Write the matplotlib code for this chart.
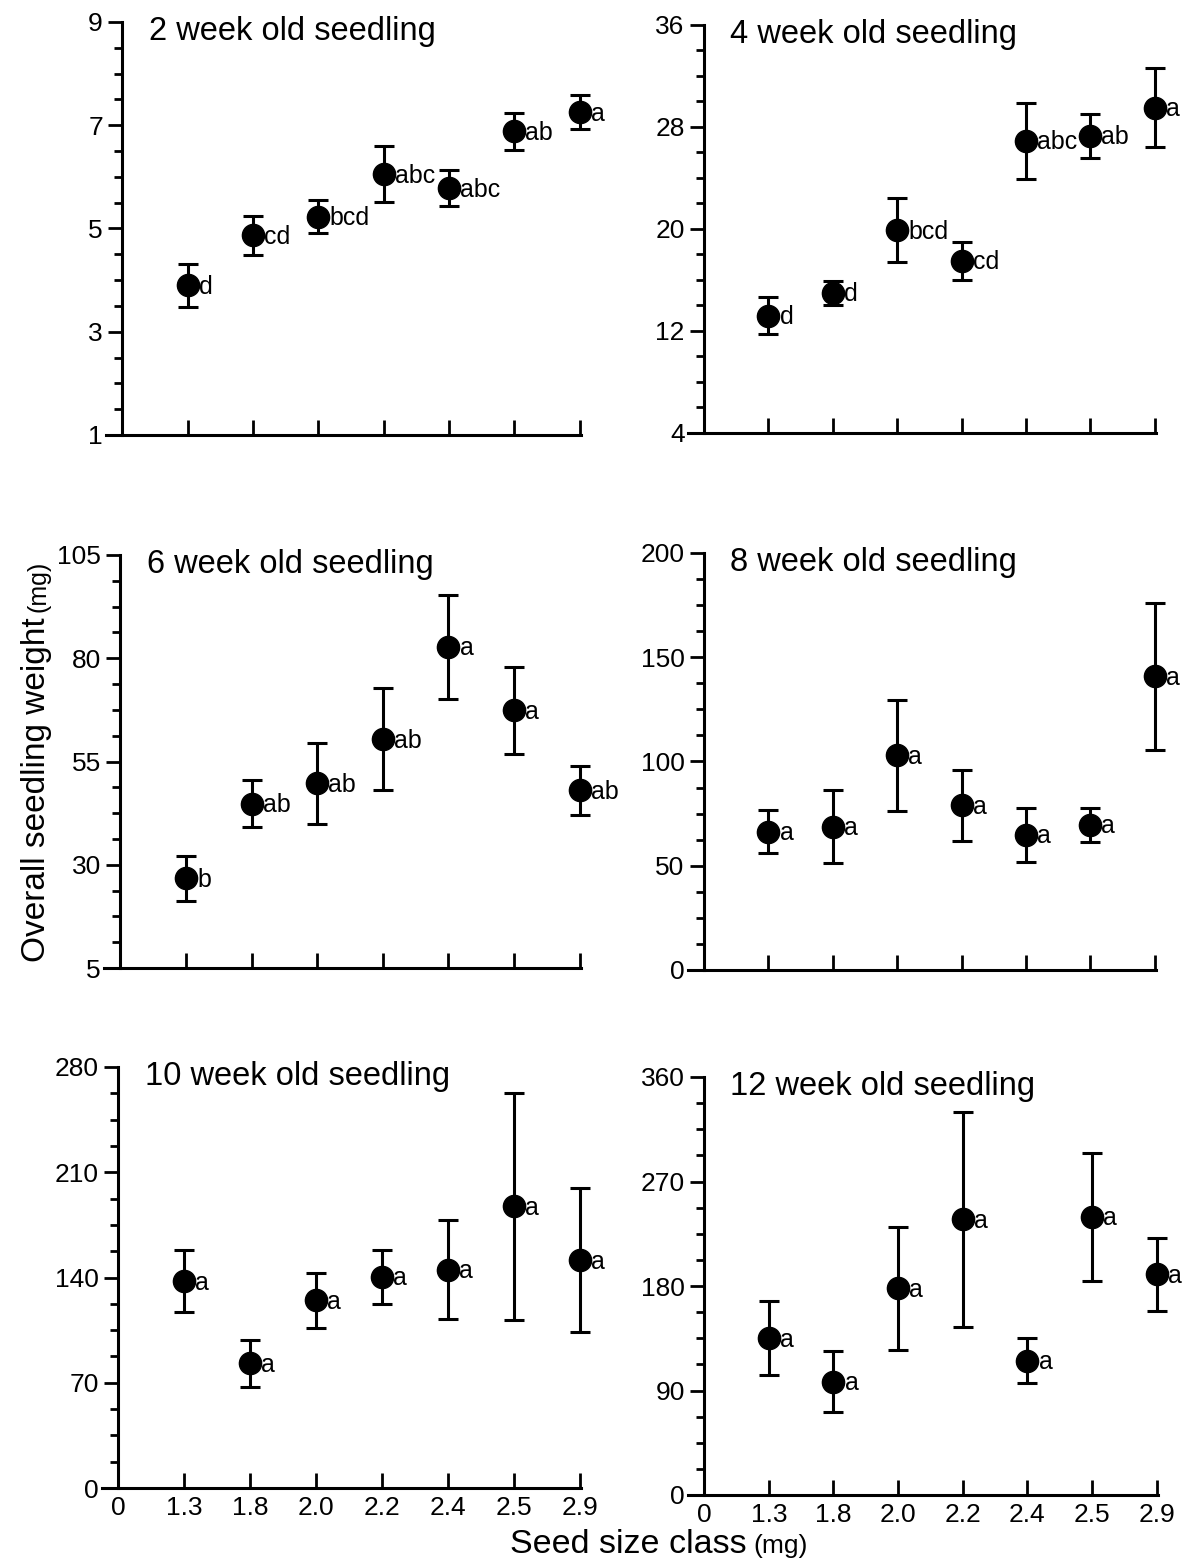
import matplotlib
matplotlib.use("Agg")
import matplotlib.pyplot as plt
from matplotlib.ticker import AutoMinorLocator, FixedLocator

plt.rcParams["font.family"] = ["Liberation Sans", "DejaVu Sans"]

# Seed size classes (mg); first entry is the origin label
size_labels = ["0", "1.3", "1.8", "2.0", "2.2", "2.4", "2.5", "2.9"]

# Mean seedling weight (mg) and standard error per seed size class
wk2_mean = [3.90, 4.87, 5.23, 6.05, 5.78, 6.88, 7.25]
wk2_se = [0.42, 0.38, 0.32, 0.54, 0.35, 0.35, 0.33]
wk2_letters = ["d", "cd", "bcd", "abc", "abc", "ab", "a"]

wk4_mean = [13.2, 15.0, 19.9, 17.5, 26.9, 27.3, 29.5]
wk4_se = [1.45, 0.95, 2.5, 1.5, 3.0, 1.75, 3.1]
wk4_letters = ["d", "d", "bcd", "cd", "abc", "ab", "a"]

wk6_mean = [26.7, 44.8, 49.7, 60.4, 82.7, 67.4, 48.0]
wk6_se = [5.5, 5.7, 9.8, 12.3, 12.6, 10.5, 6.0]
wk6_letters = ["b", "ab", "ab", "ab", "a", "a", "ab"]

wk8_mean = [66.4, 68.8, 102.9, 78.9, 64.8, 69.5, 140.8]
wk8_se = [10.5, 17.3, 26.5, 16.8, 12.8, 8.0, 35.3]
wk8_letters = ["a"] * 7

wk10_mean = [137.5, 82.9, 124.9, 140.5, 145.3, 187.3, 151.5]
wk10_se = [20.5, 15.8, 18.3, 17.8, 32.8, 75.5, 48.0]
wk10_letters = ["a"] * 7

wk12_mean = [135.0, 97.5, 178.0, 237.5, 115.6, 239.5, 190.0]
wk12_se = [31.8, 26.1, 53.0, 92.4, 19.4, 54.9, 31.5]
wk12_letters = ["a"] * 7

panel_titles = ["2 week old seedling", "4 week old seedling", "6 week old seedling",
                "8 week old seedling", "10 week old seedling", "12 week old seedling"]
panel_ylims = [(1, 9), (4, 36), (5, 105), (0, 200), (0, 280), (0, 360)]
panel_yticks = [[1, 3, 5, 7, 9], [4, 12, 20, 28, 36], [5, 30, 55, 80, 105],
                [0, 50, 100, 150, 200], [0, 70, 140, 210, 280], [0, 90, 180, 270, 360]]

panel_means = [wk2_mean, wk4_mean, wk6_mean, wk8_mean, wk10_mean, wk12_mean]
panel_ses = [wk2_se, wk4_se, wk6_se, wk8_se, wk10_se, wk12_se]
panel_letters = [wk2_letters, wk4_letters, wk6_letters, wk8_letters, wk10_letters, wk12_letters]

W, H = 1187, 1564
fig = plt.figure(figsize=(W / 100, H / 100), dpi=100)

# axes rectangles in pixels: (left, top, right, bottom)
boxes = [(106, 22, 581, 435), (688, 25, 1156, 433),
         (104, 555, 581, 968), (688, 553, 1156, 970),
         (102, 1067, 581, 1488), (688, 1077, 1158, 1495)]

x_pos = list(range(1, 8))
for i, (l, t, r, b) in enumerate(boxes):
    ax = fig.add_axes([l / W, 1 - b / H, (r - l) / W, (b - t) / H])
    ax.set_xlim(-0.25, 7.02)
    ax.set_ylim(*panel_ylims[i])
    for s in ("top", "right"):
        ax.spines[s].set_visible(False)
    ax.spines["left"].set_position(("data", 0))
    for s in ("left", "bottom"):
        ax.spines[s].set_linewidth(2.2)

    ax.errorbar(x_pos, panel_means[i], yerr=panel_ses[i], fmt="o", color="black",
                markersize=16, elinewidth=2.2, capsize=7, capthick=2.2, clip_on=False,
                zorder=3)
    for x, m, lab in zip(x_pos, panel_means[i], panel_letters[i]):
        ax.annotate(lab, (x, m), xytext=(8, -1), textcoords="offset points",
                    ha="left", va="center", fontsize=18, annotation_clip=False)

    ax.set_yticks(panel_yticks[i])
    ax.yaxis.set_minor_locator(AutoMinorLocator(4))
    ax.tick_params(axis="y", which="major", direction="out", length=10, width=2,
                   labelsize=19, pad=4)
    ax.tick_params(axis="y", which="minor", direction="out", length=6, width=2)

    ax.xaxis.set_major_locator(FixedLocator(list(range(0, 8))))
    ax.tick_params(axis="x", which="major", direction="in", length=11, width=2,
                   labelsize=19, pad=6)
    if i >= 4:
        ax.set_xticklabels(size_labels)
    else:
        ax.set_xticklabels([])

    ax.text(0.09, 1.015, panel_titles[i], transform=ax.transAxes, ha="left", va="top",
            fontsize=23.5)

# Shared axis labels, with the unit set in a smaller size
fig.canvas.draw()
renderer = fig.canvas.get_renderer()

ylab = fig.text(45 / W, 1 - 962 / H, "Overall seedling weight", rotation=90,
                rotation_mode="anchor", ha="left", va="baseline", fontsize=24)
bb = ylab.get_window_extent(renderer)
fig.text(45 / W, (bb.y1 + 5) / H, "(mg)", rotation=90, rotation_mode="anchor",
         ha="left", va="baseline", fontsize=18)

xlab = fig.text(510 / W, 1 - 1553 / H, "Seed size class", ha="left", va="baseline",
                fontsize=24.5)
bb = xlab.get_window_extent(renderer)
fig.text((bb.x1 + 7) / W, 1 - 1553 / H, "(mg)", ha="left", va="baseline", fontsize=19)

fig.savefig("out.png", dpi=100, facecolor="white")
